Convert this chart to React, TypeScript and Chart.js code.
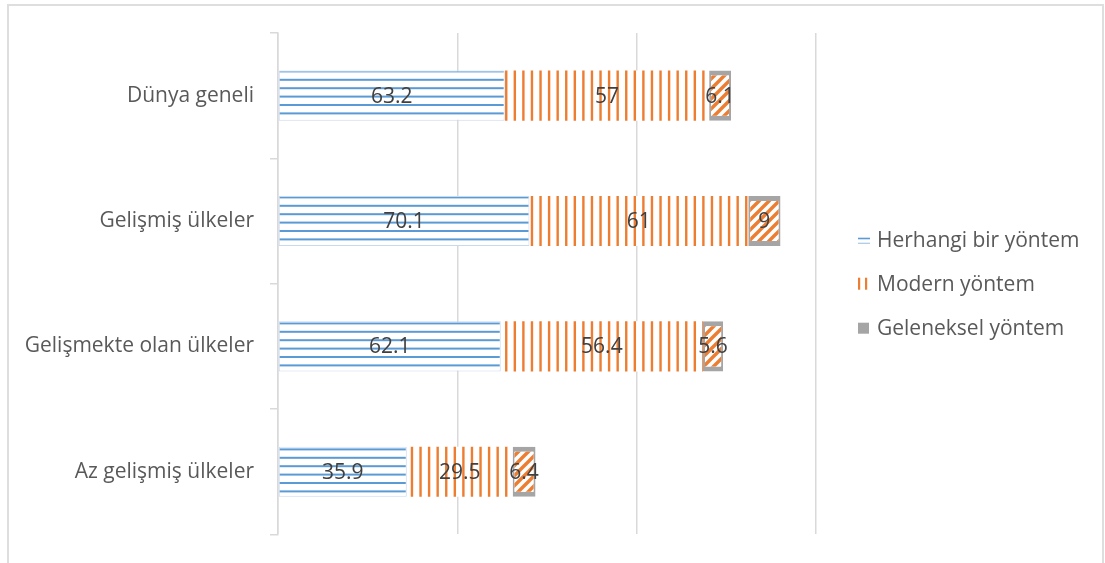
import React, { useEffect, useRef } from "react";
import { Chart, registerables } from "chart.js";

Chart.register(...registerables);

const categories = ["Dünya geneli", "Gelişmiş ülkeler", "Gelişmekte olan ülkeler", "Az gelişmiş ülkeler"];
const seriesLabels = ["Herhangi bir yöntem", "Modern yöntem", "Geleneksel yöntem"];
const anyMethod = [63.2, 70.1, 62.1, 35.9];
const modernMethod = [57, 61, 56.4, 29.5];
const traditionalMethod = [6.1, 9, 5.6, 6.4];
const xMin = 0;
const xMax = 150;
const xStep = 50;

const FONT = "'Open Sans', sans-serif";
const FONT_SIZE = 21;
const BLUE = "#5b9bd5";
const ORANGE = "#ed7d31";
const GRAY = "#a5a5a5";
const TEXT = "#595959";

function hLinesPattern(ctx: CanvasRenderingContext2D) {
  const c = document.createElement("canvas");
  c.width = 8;
  c.height = 42;
  const g = c.getContext("2d")!;
  g.fillStyle = "#fff";
  g.fillRect(0, 0, 8, 42);
  g.fillStyle = BLUE;
  for (let i = 0; i < 5; i++) g.fillRect(0, 3.2 + i * 8.4, 8, 2);
  return ctx.createPattern(c, "repeat")!;
}

function vLinesPattern(ctx: CanvasRenderingContext2D) {
  const c = document.createElement("canvas");
  c.width = 60;
  c.height = 8;
  const g = c.getContext("2d")!;
  g.fillStyle = "#fff";
  g.fillRect(0, 0, 60, 8);
  g.fillStyle = ORANGE;
  for (let i = 0; i < 7; i++) {
    const x = (7.9 + i * (60 / 7)) % 60;
    g.fillRect(x, 0, 2.4, 8);
    if (x + 2.4 > 60) g.fillRect(x - 60, 0, 2.4, 8);
  }
  return ctx.createPattern(c, "repeat")!;
}

function diagPattern(ctx: CanvasRenderingContext2D) {
  const c = document.createElement("canvas");
  c.width = 10;
  c.height = 10;
  const g = c.getContext("2d")!;
  g.fillStyle = "#fff";
  g.fillRect(0, 0, 10, 10);
  g.strokeStyle = ORANGE;
  g.lineWidth = 3.4;
  g.beginPath();
  g.moveTo(-5, 5); g.lineTo(5, -5);
  g.moveTo(0, 10); g.lineTo(10, 0);
  g.moveTo(5, 15); g.lineTo(15, 5);
  g.stroke();
  return ctx.createPattern(c, "repeat")!;
}

const valueLabels = {
  id: "valueLabels",
  afterDatasetsDraw(chart: any) {
    const ctx = chart.ctx;
    ctx.save();
    ctx.font = `${FONT_SIZE}px ${FONT}`;
    ctx.fillStyle = "#404040";
    ctx.textAlign = "center";
    ctx.textBaseline = "middle";
    chart.data.datasets.forEach((ds: any, i: number) => {
      const meta = chart.getDatasetMeta(i);
      meta.data.forEach((el: any, j: number) => {
        const p = el.getCenterPoint();
        ctx.fillText(String(ds.data[j]), p.x, p.y + 1);
      });
    });
    ctx.restore();
  },
};

const sideLegend = {
  id: "sideLegend",
  afterDraw(chart: any) {
    const ctx = chart.ctx;
    const area = chart.chartArea;
    const mid = (area.top + area.bottom) / 2;
    const x0 = area.right + 42;
    ctx.save();
    ctx.font = `${FONT_SIZE}px ${FONT}`;
    ctx.textAlign = "left";
    ctx.textBaseline = "middle";
    chart.data.datasets.forEach((ds: any, i: number) => {
      const y = mid + (i - 1) * 44;
      if (i === 0) {
        ctx.fillStyle = BLUE;
        ctx.fillRect(x0, y - 2, 12, 1.6);
        ctx.fillStyle = "#a9c8e8";
        ctx.fillRect(x0, y + 3, 12, 1.2);
      } else if (i === 1) {
        ctx.fillStyle = ORANGE;
        ctx.fillRect(x0, y - 6, 2.2, 12);
        ctx.fillRect(x0 + 7, y - 6, 2.2, 12);
      } else {
        ctx.fillStyle = GRAY;
        ctx.fillRect(x0, y - 5, 11, 11);
      }
      ctx.fillStyle = TEXT;
      ctx.fillText(ds.label, x0 + 19, y + 1);
    });
    ctx.restore();
  },
};

export default function App() {
  const ref = useRef<HTMLCanvasElement>(null);

  useEffect(() => {
    const canvas = ref.current!;
    const ctx = canvas.getContext("2d")!;
    const chart = new Chart(canvas, {
      type: "bar",
      data: {
        labels: categories,
        datasets: [
          {
            label: seriesLabels[0],
            data: anyMethod,
            backgroundColor: hLinesPattern(ctx),
            borderColor: "#c9d9ee",
            borderWidth: 1,
            borderSkipped: false,
          },
          {
            label: seriesLabels[1],
            data: modernMethod,
            backgroundColor: vLinesPattern(ctx),
            borderWidth: 0,
          },
          {
            label: seriesLabels[2],
            data: traditionalMethod,
            backgroundColor: diagPattern(ctx),
            borderColor: GRAY,
            borderWidth: { top: 5, bottom: 5, left: 2, right: 2 },
            borderSkipped: false,
          },
        ] as any,
      },
      options: {
        indexAxis: "y",
        responsive: false,
        animation: false,
        datasets: { bar: { categoryPercentage: 1, barPercentage: 0.4 } },
        layout: { padding: { top: 33, right: 289, bottom: 28, left: 0 } },
        plugins: { legend: { display: false }, tooltip: { enabled: false } },
        scales: {
          x: {
            stacked: true,
            min: xMin,
            max: xMax,
            ticks: { display: false, stepSize: xStep },
            grid: { color: "#d9d9d9", drawTicks: false, lineWidth: 1.5 },
            border: { display: false },
            afterFit: (s: any) => { s.height = 0; },
          },
          y: {
            stacked: true,
            ticks: { color: TEXT, font: { family: FONT, size: FONT_SIZE }, padding: 16 },
            grid: { offset: true, drawOnChartArea: false, tickLength: 8, color: "#d9d9d9", lineWidth: 1.5 },
            border: { color: "#d9d9d9", width: 1.5 },
            afterFit: (s: any) => { s.width = 278; },
          },
        },
      } as any,
      plugins: [valueLabels, sideLegend],
    });
    return () => chart.destroy();
  }, []);

  return (
    <div style={{ position: "fixed", left: 0, top: 0, width: 1105, height: 563, overflow: "hidden", background: "#fff" }}>
      <div style={{ position: "absolute", left: 7, top: 4, width: 1097, height: 700, border: "2px solid #dedede", boxSizing: "border-box" }} />
      <canvas ref={ref} width={1105} height={563} style={{ position: "absolute", left: 0, top: 0 }} />
    </div>
  );
}
